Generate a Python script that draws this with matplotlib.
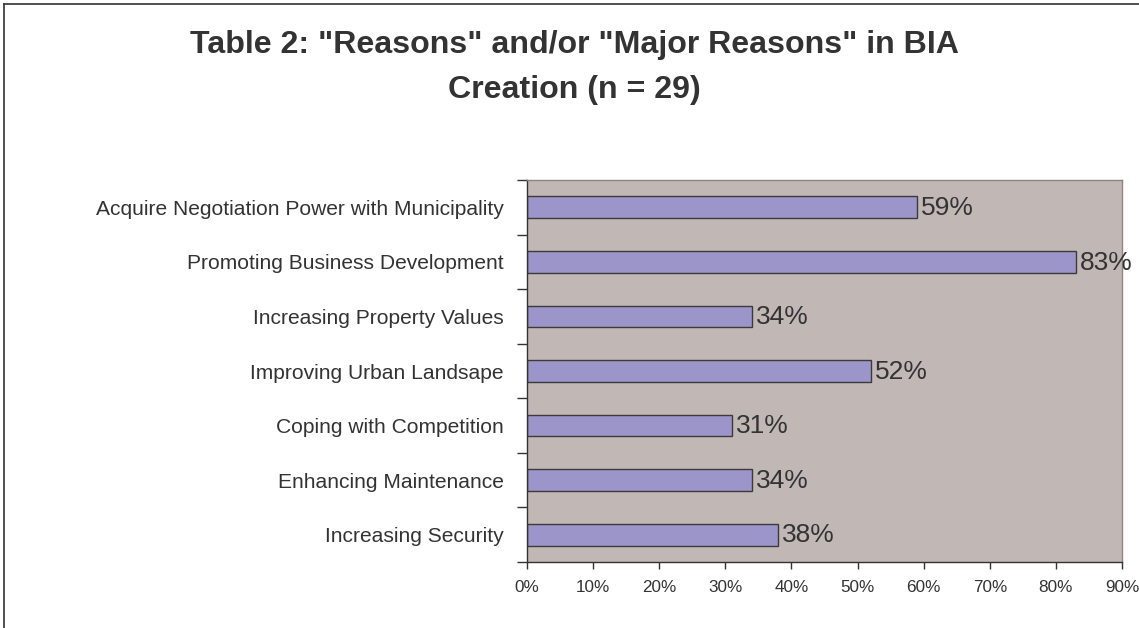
import matplotlib
matplotlib.use("Agg")
import matplotlib.pyplot as plt
from matplotlib.lines import Line2D
from matplotlib.ticker import PercentFormatter

categories = [
    "Acquire Negotiation Power with Municipality",
    "Promoting Business Development",
    "Increasing Property Values",
    "Improving Urban Landsape",
    "Coping with Competition",
    "Enhancing Maintenance",
    "Increasing Security",
]
values = [59, 83, 34, 52, 31, 34, 38]
xticks = [0, 10, 20, 30, 40, 50, 60, 70, 80, 90]

plt.rcParams["font.family"] = ["Liberation Sans", "DejaVu Sans"]
TXT = "#333333"

fig = plt.figure(figsize=(11.39, 6.28), dpi=100)
ax = fig.add_axes([527 / 1139, 1 - 562 / 628, (1122 - 527) / 1139, (562 - 180) / 628])
ax.set_facecolor("#C1B8B5")

ypos = list(range(len(categories)))
ax.barh(ypos, values, height=0.4, color="#9B95C9", edgecolor="#3a3a3a", linewidth=1.0)
for y, v in zip(ypos, values):
    ax.annotate(f"{v}%", (v, y), xytext=(3, -0.5), textcoords="offset points",
                ha="left", va="center", fontsize=19, color=TXT)

ax.set_ylim(len(categories) - 0.5, -0.5)
ax.set_xlim(0, 90)
ax.set_yticks(ypos)
ax.set_yticklabels(categories, fontsize=15.1, color=TXT)
ax.set_yticks([y + 0.5 for y in range(-1, len(categories))], minor=True)
ax.tick_params(axis="y", which="major", length=0, pad=17)
ax.tick_params(axis="y", which="minor", length=7, width=1, color="#333333")
ax.set_xticks(xticks)
ax.xaxis.set_major_formatter(PercentFormatter(decimals=0))
ax.tick_params(axis="x", length=5, width=1, color="#333333", labelsize=12.3,
               labelcolor=TXT, pad=8)

for s in ("left", "bottom"):
    ax.spines[s].set_color("#333333")
    ax.spines[s].set_linewidth(1.0)
for s in ("top", "right"):
    ax.spines[s].set_color("#8E8582")
    ax.spines[s].set_linewidth(1.0)

title_x = 574 / 1139
fig.text(title_x, 1 - 45 / 628, "Table 2: \"Reasons\" and/or \"Major Reasons\" in BIA",
         ha="center", va="center", fontsize=23.1, fontweight="bold", color=TXT)
fig.text(title_x, 1 - 90 / 628, "Creation (n = 29)",
         ha="center", va="center", fontsize=23.1, fontweight="bold", color=TXT)

# outer chart border (right/bottom edges fall outside the image)
fig.add_artist(Line2D([4 / 1139, 4 / 1139], [0, 1 - 4 / 628], color="#333333", lw=1.2))
fig.add_artist(Line2D([4 / 1139, 1], [1 - 4 / 628, 1 - 4 / 628], color="#333333", lw=1.2))

fig.savefig("out.png", dpi=100)
